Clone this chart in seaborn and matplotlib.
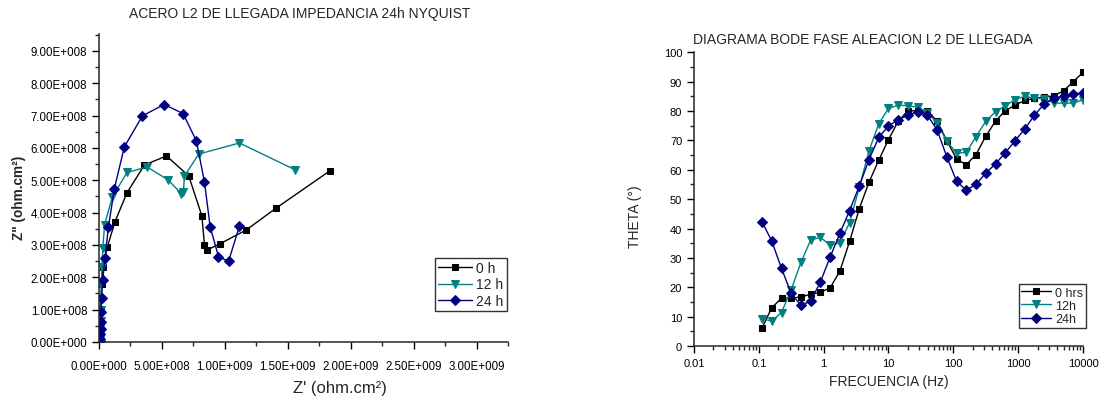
import numpy as np
import pandas as pd
import seaborn as sns
import matplotlib
matplotlib.use("Agg")
import matplotlib.pyplot as plt
from matplotlib.ticker import MultipleLocator, FuncFormatter, LogLocator, NullFormatter

# ---- Nyquist data (Z', Z'' in ohm.cm2), high frequency first ----
z_re_0h = [0.6e7, 0.8e7, 1.0e7, 1.2e7, 1.5e7, 2.1e7, 3.0e7, 6.6e7, 1.27e8, 2.23e8,
           3.61e8, 5.36e8, 7.13e8, 8.17e8, 8.38e8, 8.57e8, 9.63e8, 1.169e9, 1.408e9, 1.838e9]
z_im_0h = [0.1e8, 0.3e8, 0.6e8, 1.0e8, 1.35e8, 1.78e8, 2.31e8, 2.94e8, 3.72e8, 4.62e8,
           5.47e8, 5.75e8, 5.13e8, 3.90e8, 3.00e8, 2.84e8, 3.04e8, 3.46e8, 4.14e8, 5.30e8]

z_re_12h = [0.5e7, 0.8e7, 1.0e7, 1.3e7, 1.6e7, 1.9e7, 2.3e7, 3.0e7, 4.4e7, 1.06e8,
            2.23e8, 3.82e8, 5.49e8, 6.55e8, 6.70e8, 6.79e8, 7.93e8, 1.116e9, 1.559e9]
z_im_12h = [0.05e8, 0.2e8, 0.4e8, 0.65e8, 1.0e8, 1.8e8, 2.33e8, 2.90e8, 3.62e8, 4.49e8,
            5.24e8, 5.41e8, 5.01e8, 4.58e8, 4.64e8, 5.13e8, 5.81e8, 6.15e8, 5.32e8]

z_re_24h = [0.5e7, 0.8e7, 1.0e7, 1.2e7, 1.5e7, 1.6e7, 2.1e7, 2.9e7, 4.8e7, 7.4e7, 1.22e8,
            2.01e8, 3.45e8, 5.17e8, 6.68e8, 7.74e8, 8.38e8, 8.83e8, 9.49e8, 1.029e9, 1.116e9]
z_im_24h = [0.03e8, 0.08e8, 0.24e8, 0.39e8, 0.62e8, 0.94e8, 1.37e8, 1.91e8, 2.61e8, 3.54e8, 4.74e8,
            6.03e8, 6.99e8, 7.34e8, 7.06e8, 6.21e8, 4.94e8, 3.56e8, 2.64e8, 2.49e8, 3.59e8]

nyquist_labels = ["0 h", "12 h", "24 h"]

# ---- Bode phase data ----
freq_hz = [0.112, 0.158, 0.224, 0.316, 0.447, 0.631, 0.891, 1.26, 1.78, 2.51, 3.55, 5.01,
           7.08, 10.0, 14.1, 20.0, 28.2, 39.8, 56.2, 79.4, 112, 158, 224, 316, 447, 631,
           891, 1259, 1778, 2512, 3548, 5012, 7079, 10000]
theta_0h = [6.1, 13.0, 16.3, 16.3, 16.7, 17.6, 18.3, 19.8, 25.5, 35.6, 46.8, 55.8,
            63.3, 70.3, 76.5, 80.1, 80.1, 80.0, 76.6, 69.9, 63.7, 61.7, 65.2, 71.4, 76.6, 80.1,
            82.0, 83.6, 84.3, 84.7, 85.2, 86.9, 90.0, 93.2]
theta_12h = [9.3, 8.5, 11.4, 19.2, 28.5, 36.1, 37.0, 34.4, 35.1, 42.0, 54.0, 66.5,
             75.7, 80.9, 82.0, 81.8, 81.3, 79.5, 75.9, 69.7, 65.7, 65.9, 71.3, 76.5, 79.8, 81.8,
             83.9, 85.0, 84.4, 84.2, 82.7, 82.7, 82.7, 83.9]
theta_24h = [42.3, 35.8, 26.4, 17.9, 13.8, 15.3, 21.8, 30.3, 38.4, 46.1, 54.5, 63.5,
             71.0, 75.0, 77.0, 78.6, 79.8, 78.6, 73.6, 64.4, 56.1, 53.1, 55.0, 58.9, 62.0, 65.8,
             69.8, 73.9, 78.5, 82.4, 84.3, 85.2, 85.7, 86.3]

bode_labels = ["0 hrs", "12h", "24h"]

colors = ["#000000", "#008080", "#000080"]
markers = ["s", "v", "D"]
msizes = [5.0, 6.0, 5.2]

sns.set_style("ticks")
plt.rcParams["font.family"] = ["Liberation Sans", "DejaVu Sans"]
plt.rcParams["axes.linewidth"] = 1.1

fig = plt.figure(figsize=(11.04, 4.02), dpi=100)
ax1 = fig.add_axes([0.0897, 0.1468, 0.3705, 0.7662])
ax2 = fig.add_axes([0.6286, 0.1368, 0.3524, 0.7306])


def sci_fmt(v, pos):
    if v == 0:
        return "0.00E+000"
    e = int(np.floor(np.log10(abs(v)) + 1e-9))
    m = v / 10 ** e
    sign = "+" if e >= 0 else "-"
    return f"{m:.2f}E{sign}{abs(e):03d}"


# Nyquist
nyq = [(z_re_0h, z_im_0h), (z_re_12h, z_im_12h), (z_re_24h, z_im_24h)]
for (xr, yi), lab, c, mk, ms in zip(nyq, nyquist_labels, colors, markers, msizes):
    sns.lineplot(x=xr, y=yi, sort=False, estimator=None, ax=ax1, color=c, marker=mk,
                 markersize=ms, markeredgecolor=c, markerfacecolor=c, linewidth=1.0, label=lab)

ax1.set_xlim(0, 3.25e9)
ax1.set_ylim(0, 9.52e8)
ax1.xaxis.set_major_locator(MultipleLocator(5e8))
ax1.xaxis.set_minor_locator(MultipleLocator(2.5e8))
ax1.yaxis.set_major_locator(MultipleLocator(1e8))
ax1.yaxis.set_minor_locator(MultipleLocator(5e7))
ax1.xaxis.set_major_formatter(FuncFormatter(sci_fmt))
ax1.yaxis.set_major_formatter(FuncFormatter(sci_fmt))
ax1.set_xticks([t for t in np.arange(0, 3.01e9, 5e8)])
ax1.set_xlabel("")
ax1.set_ylabel("")
leg1 = ax1.legend(loc="upper left", bbox_to_anchor=(0.394, 0.356), bbox_transform=fig.transFigure,
                  fontsize=10, frameon=True, fancybox=False, edgecolor="black", borderaxespad=0,
                  borderpad=0.25, labelspacing=0.15, handlelength=2.4, handletextpad=0.3)
leg1.get_frame().set_linewidth(1.0)

fig.text(0.2717, 0.965, "ACERO L2 DE LLEGADA IMPEDANCIA 24h NYQUIST", ha="center", va="center",
         fontsize=10)
fig.text(339.5 / 1104, 1 - 389 / 402, "Z' (ohm.cm²)", ha="center", va="center", fontsize=12)
fig.text(19 / 1104, 1 - 198 / 402, 'Z" (ohm.cm²)', ha="center", va="center", fontsize=9.8,
         fontweight="bold", rotation=90)

# Bode phase
bode = [theta_0h, theta_12h, theta_24h]
for th, lab, c, mk, ms in zip(bode, bode_labels, colors, markers, msizes):
    sns.lineplot(x=freq_hz, y=th, sort=False, estimator=None, ax=ax2, color=c, marker=mk,
                 markersize=ms, markeredgecolor=c, markerfacecolor=c, linewidth=1.0, label=lab)

ax2.set_xscale("log")
ax2.set_xlim(0.01, 10000)
ax2.set_ylim(0, 100)
ax2.yaxis.set_major_locator(MultipleLocator(10))
ax2.yaxis.set_minor_locator(MultipleLocator(5))
ax2.xaxis.set_major_locator(LogLocator(base=10, numticks=20))
ax2.xaxis.set_minor_locator(LogLocator(base=10, subs=np.arange(2, 10), numticks=100))
ax2.xaxis.set_minor_formatter(NullFormatter())
ax2.xaxis.set_major_formatter(FuncFormatter(lambda v, p: f"{v:g}"))
ax2.set_xlabel("")
ax2.set_ylabel("")
leg2 = ax2.legend(loc="upper left", bbox_to_anchor=(0.923, 0.291), bbox_transform=fig.transFigure,
                  fontsize=9, frameon=True, fancybox=False, edgecolor="black", borderaxespad=0,
                  borderpad=0.2, labelspacing=0.1, handlelength=2.4, handletextpad=0.3)
leg2.get_frame().set_linewidth(1.0)

fig.text(0.7813, 1 - 40 / 402, "DIAGRAMA BODE FASE ALEACION L2 DE LLEGADA", ha="center",
         va="center", fontsize=10)
fig.text(889 / 1104, 1 - 381.7 / 402, "FRECUENCIA (Hz)", ha="center", va="center", fontsize=10)
fig.text(635 / 1104, 1 - 216.7 / 402, "THETA (°)", ha="center", va="center", fontsize=10,
         rotation=90)

for ax, fs in ((ax1, 8.3), (ax2, 8.0)):
    sns.despine(ax=ax)
    ax.tick_params(which="major", direction="out", length=5, width=1.0, labelsize=fs,
                   colors="black")
    ax.tick_params(which="minor", direction="out", length=3, width=1.0)
    ax.grid(False)

# Nyquist x tick labels sit a little lower under the axis
ax1.tick_params(axis="x", which="major", pad=8)

fig.savefig("out.png", dpi=100, facecolor="white")
